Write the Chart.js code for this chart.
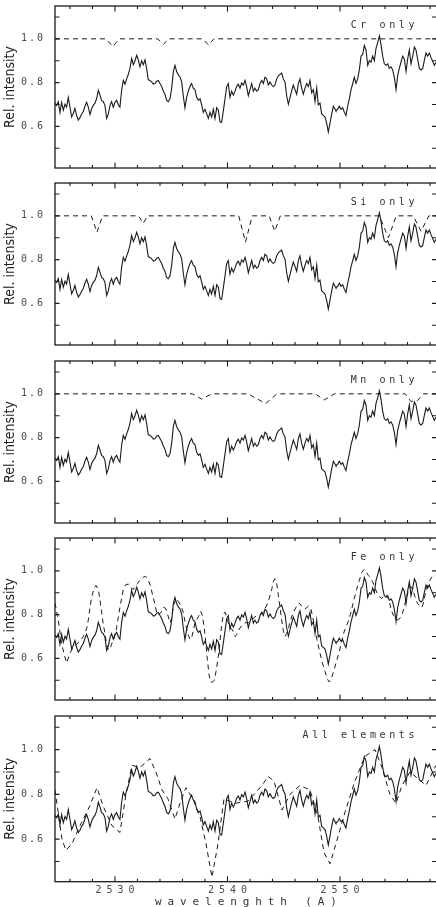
<!DOCTYPE html>
<html><head><meta charset="utf-8">
<script src="https://cdn.jsdelivr.net/npm/chart.js@4.4.1/dist/chart.umd.min.js"></script>
<style>
html,body{margin:0;padding:0;background:#fff;overflow:hidden}
#wrap{position:relative;width:436px;height:907px;overflow:hidden;background:#fff}
canvas{position:absolute;left:0}
</style></head><body><div id="wrap"></div>
<script>
// ---------------- DATA ----------------
const obsWavelength = [
2524.67,2524.81,2524.96,2525.11,2525.26,2525.41,2525.56,2525.70,2525.85,2526.00,2526.15,2526.30,2526.44,2526.59,2526.74,2526.89,2527.04,2527.19,2527.33,2527.48,2527.63,2527.78,2527.93,2528.07,2528.22,2528.37,2528.52,2528.67,2528.81,2528.96,2529.11,2529.26,2529.41,2529.56,2529.70,2529.85,2530.00,2530.15,2530.30,2530.44,2530.59,2530.74,2530.89,2531.04,2531.19,2531.33,2531.48,2531.63,2531.78,2531.93,2532.07,2532.22,2532.37,2532.52,2532.67,2532.81,2532.96,
2533.11,2533.26,2533.41,2533.56,2533.70,2533.85,2534.00,2534.15,2534.30,2534.44,2534.59,2534.74,2534.89,2535.04,2535.19,2535.33,2535.48,2535.63,2535.78,2535.93,2536.07,2536.22,2536.37,2536.52,2536.67,2536.81,2536.96,2537.11,2537.26,2537.41,2537.56,2537.70,2537.85,2538.00,2538.15,2538.30,2538.44,2538.59,2538.74,2538.89,2539.04,2539.19,2539.33,2539.48,2539.63,2539.78,2539.93,2540.07,2540.22,2540.37,2540.52,2540.67,2540.81,2540.96,2541.11,2541.26,2541.41,
2541.56,2541.70,2541.85,2542.00,2542.15,2542.30,2542.44,2542.59,2542.74,2542.89,2543.04,2543.19,2543.33,2543.48,2543.63,2543.78,2543.93,2544.07,2544.22,2544.37,2544.52,2544.67,2544.81,2544.96,2545.11,2545.26,2545.41,2545.56,2545.70,2545.85,2546.00,2546.15,2546.30,2546.44,2546.59,2546.74,2546.89,2547.04,2547.19,2547.33,2547.48,2547.63,2547.78,2547.93,2548.07,2548.22,2548.37,2548.52,2548.67,2548.81,2548.96,2549.11,2549.26,2549.41,2549.56,
2549.64,2549.79,2549.94,2550.09,2550.24,2550.39,2550.53,2550.68,2550.83,2550.98,2551.13,2551.27,2551.42,2551.57,2551.72,2551.87,2552.01,2552.16,2552.31,2552.46,2552.61,2552.75,2552.90,2553.05,2553.20,2553.35,2553.50,2553.64,2553.79,2553.94,2554.09,2554.24,2554.38,2554.53,2554.68,2554.83,2554.98,2555.12,2555.27,2555.42,2555.57,2555.72,2555.87,2556.01,2556.16,2556.31,2556.46,2556.61,2556.75,2556.90,2557.05,2557.20,2557.35,2557.49,2557.64,2557.79,2557.94,2558.09,2558.24,2558.38,2558.53];
const obsIntensity = [
0.706,0.696,0.713,0.664,0.710,0.674,0.701,0.688,0.732,0.688,0.643,0.660,0.682,0.650,0.629,0.640,0.657,0.668,0.692,0.710,0.688,0.654,0.682,0.696,0.706,0.726,0.765,0.743,0.719,0.713,0.696,0.636,0.657,0.696,0.713,0.688,0.710,0.719,0.699,0.688,0.765,0.810,0.793,0.817,0.838,0.865,0.910,0.882,0.900,0.925,0.904,0.872,0.900,0.882,0.904,0.865,0.813,
0.810,0.803,0.793,0.796,0.807,0.810,0.796,0.782,0.761,0.747,0.719,0.713,0.726,0.775,0.851,0.879,0.851,0.835,0.826,0.803,0.740,0.685,0.733,0.761,0.782,0.796,0.775,0.768,0.733,0.719,0.726,0.699,0.664,0.678,0.657,0.636,0.664,0.643,0.678,0.636,0.685,0.674,0.622,0.618,0.671,0.726,0.782,0.796,0.733,0.761,0.743,0.761,0.782,0.793,0.775,0.799,0.789,
0.810,0.782,0.740,0.768,0.796,0.761,0.775,0.761,0.768,0.796,0.810,0.796,0.824,0.817,0.789,0.803,0.789,0.782,0.789,0.817,0.831,0.838,0.844,0.817,0.803,0.740,0.701,0.733,0.761,0.789,0.768,0.747,0.796,0.817,0.775,0.747,0.775,0.796,0.782,0.810,0.754,0.768,0.713,0.775,0.699,0.706,0.657,0.650,0.643,0.615,0.574,0.615,0.657,0.692,0.678,
0.671,0.678,0.692,0.678,0.685,0.664,0.650,0.692,0.726,0.768,0.796,0.824,0.796,0.817,0.858,0.921,0.928,0.969,0.949,0.879,0.900,0.893,0.921,0.900,0.956,0.983,1.014,0.976,0.921,0.886,0.879,0.886,0.865,0.872,0.858,0.824,0.768,0.831,0.865,0.893,0.921,0.907,0.851,0.907,0.949,0.886,0.921,0.963,0.949,0.907,0.865,0.858,0.865,0.900,0.935,0.921,0.935,0.914,0.896,0.879,0.893];

const crWavelength = [2524.67,2529.2,2529.8,2530.4,2533.8,2534.3,2534.8,2537.8,2538.3,2538.8,2558.6];
const crModel      = [1.0,1.0,0.965,1.0,1.0,0.975,1.0,1.0,0.972,1.0,1.0];

const siWavelength = [2524.67,2527.9,2528.4,2528.9,2532.1,2532.5,2532.9,2541.0,2541.6,2542.2,2543.7,2544.2,2544.7,2553.5,2554.3,2555.0,2556.5,2557.2,2557.9,2558.6];
const siModel      = [1.0,1.0,0.925,1.0,1.0,0.965,1.0,1.0,0.88,1.0,1.0,0.93,1.0,1.0,0.90,1.0,1.0,0.93,1.0,1.0];

const mnWavelength = [2524.67,2536.9,2537.7,2538.6,2541.8,2543.4,2544.4,2547.8,2548.6,2549.5,2555.8,2556.3,2556.9,2557.4,2558.6];
const mnModel      = [1.0,1.0,0.976,1.0,1.0,0.956,1.0,1.0,0.972,1.0,1.0,0.965,0.97,1.0,1.0];

const feWavelength = [
2524.67,2524.96,2525.11,2525.26,2525.50,2525.70,2526.00,2526.30,2526.59,2526.89,2527.19,2527.48,2527.63,2527.78,2527.93,2528.16,2528.31,2528.52,2528.67,2528.81,2528.96,2529.11,2529.26,2529.41,2529.56,2529.70,2529.94,2530.15,2530.30,2530.44,2530.59,2530.74,2530.95,2531.19,2531.42,2531.63,2531.78,2532.01,2532.22,2532.52,2532.73,2532.96,2533.17,2533.35,2533.56,2533.70,2533.85,2534.09,2534.30,2534.44,2534.59,2534.74,2534.89,2535.04,2535.19,2535.33,2535.48,2535.63,2535.87,2536.07,2536.22,2536.37,2536.52,2536.67,2536.81,2536.96,2537.11,2537.41,2537.61,2537.76,2537.91,2538.06,2538.21,2538.36,2538.50,2538.68,2538.83,2538.98,2539.19,2539.33,2539.48,2539.63,2539.78,2539.93,2540.07,2540.22,2540.37,2540.52,2540.67,2540.81,2540.96,2541.26,2541.56,
2541.85,2542.15,2542.44,2542.74,2543.04,2543.33,2543.63,2543.93,2544.07,2544.22,2544.37,2544.52,2544.67,2544.81,2544.96,2545.11,2545.26,2545.41,2545.56,2545.85,2546.15,2546.38,2546.59,2546.89,2547.19,2547.39,2547.57,2547.78,2547.98,2548.22,2548.46,2548.67,2548.87,2549.05,2549.26,2549.47,2549.70,2549.94,2550.15,2550.36,2550.59,2550.83,2551.04,2551.24,2551.48,2551.72,2551.93,2552.13,2552.31,2552.52,2552.67,2552.90,2553.11,2553.32,2553.50,2553.70,2553.91,2554.15,2554.36,2554.53,2554.74,2554.95,2555.13,2555.33,2555.54,2555.72,2555.93,2556.07,2556.28,2556.46,2556.67,2556.87,2557.11,2557.26,2557.41,2557.55,2557.76,2558.00,2558.15,2558.39,2558.53];
const feModel = [
0.853,0.776,0.721,0.665,0.617,0.579,0.624,0.651,0.665,0.679,0.700,0.735,0.776,0.832,0.881,0.922,0.933,0.915,0.867,0.811,0.756,0.714,0.665,0.638,0.644,0.665,0.693,0.742,0.790,0.832,0.874,0.915,0.936,0.940,0.922,0.915,0.929,0.943,0.957,0.971,0.975,0.957,0.929,0.888,0.846,0.811,0.797,0.811,0.832,0.832,0.818,0.790,0.763,0.783,0.839,0.860,0.874,0.860,0.839,0.811,0.769,0.735,0.707,0.686,0.693,0.728,0.763,0.790,0.815,0.797,0.749,0.679,0.596,0.526,0.492,0.492,0.499,0.540,0.610,0.679,0.749,0.804,0.811,0.790,0.763,0.742,0.735,0.721,0.700,0.707,0.728,0.749,0.763,
0.763,0.776,0.790,0.797,0.804,0.825,0.860,0.915,0.950,0.964,0.943,0.888,0.832,0.776,0.728,0.700,0.714,0.735,0.769,0.811,0.839,0.853,0.839,0.825,0.839,0.832,0.790,0.735,0.679,0.624,0.575,0.540,0.506,0.492,0.513,0.547,0.589,0.631,0.679,0.721,0.749,0.783,0.825,0.867,0.915,0.957,0.992,1.006,0.999,0.978,0.971,0.950,0.922,0.894,0.881,0.874,0.888,0.888,0.867,0.825,0.797,0.783,0.776,0.783,0.804,0.839,0.881,0.908,0.929,0.915,0.881,0.853,0.839,0.832,0.853,0.888,0.929,0.957,0.971,0.978,0.978];

const allWavelength = [2524.67,2525.29,2525.64,2526.18,2526.89,2527.78,2528.40,2528.93,2529.73,2530.44,2530.98,2531.51,2532.22,2533.11,2533.64,2534.18,2534.71,2535.33,2535.78,2536.31,2536.93,2537.56,2538.09,2538.62,2539.16,2539.69,2540.67,2541.82,2543.07,2543.60,2544.13,2544.84,2545.56,2546.44,2547.33,2548.04,2548.58,2549.11,2549.64,2550.44,2551.33,2552.22,2553.11,2553.73,2554.44,2554.98,2555.51,2556.22,2556.93,2557.64,2558.53];
const allModel      = [0.82,0.60,0.55,0.58,0.66,0.75,0.83,0.75,0.66,0.63,0.80,0.93,0.92,0.96,0.90,0.82,0.78,0.69,0.76,0.83,0.78,0.70,0.58,0.43,0.58,0.78,0.76,0.77,0.84,0.88,0.86,0.73,0.80,0.84,0.82,0.70,0.54,0.49,0.58,0.72,0.86,0.97,1.00,0.92,0.80,0.76,0.84,0.90,0.87,0.84,0.93];

const panelLabels = ['Cr only', 'Si only', 'Mn only', 'Fe only', 'All elements'];
const modelWavelengths = [crWavelength, siWavelength, mnWavelength, feWavelength, allWavelength];
const modelIntensities = [crModel, siModel, mnModel, feModel, allModel];

const yTickValues = [0.5, 0.6, 0.7, 0.8, 0.9, 1.0, 1.1];
const yTickLabels = ['', '0.6', '', '0.8', '', '1.0', ''];
const xTickValues = [2526, 2528, 2530, 2532, 2534, 2536, 2538, 2540, 2542, 2544, 2546, 2548, 2550, 2552, 2554, 2556, 2558];
const xMajorTicks = [2530, 2540, 2550];
const xTitle = 'wavelenghth (A)';
const yTitle = 'Rel. intensity';
const xRange = [2524.67, 2558.62];
const yRange = [0.41, 1.15];

// ---------------- LAYOUT ----------------
const panels = [
  {top: -1.5, bottom: 175.7},
  {top: 175.0, bottom: 353.0},
  {top: 353.3, bottom: 530.3},
  {top: 530.3, bottom: 707.7},
  {top: 708.3, bottom: 881.7}
];
const INK = '#1b1b1b';
const TEXT = '#4a4a4a';
const CANVAS_W = 438;
const MONO = '"DejaVu Sans Mono", "Liberation Mono", monospace';

function patchSpacing(labelLs, labelDx, titleLs, titleDx, titleDy) {
  return function (scale) {
    if (scale.__sp) return;
    scale.__sp = true;
    const dl = scale.drawLabels, dt = scale.drawTitle;
    scale.drawLabels = function (a) {
      const c = this.ctx; c.save(); c.letterSpacing = labelLs; c.translate(labelDx, 0); dl.call(this, a); c.restore();
    };
    scale.drawTitle = function () {
      const c = this.ctx; c.save(); c.letterSpacing = titleLs; c.translate(titleDx, titleDy); dt.call(this); c.restore();
    };
  };
}

const framePlugin = {
  id: 'panelFrame',
  afterDraw(chart, args, opts) {
    const {ctx, chartArea: a, scales: {x, y}} = chart;
    ctx.save();
    ctx.strokeStyle = INK;
    ctx.lineWidth = 1.3;
    ctx.strokeRect(a.left, a.top, a.right - a.left, a.bottom - a.top);
    ctx.lineWidth = 1.1;
    ctx.beginPath();
    for (const v of xTickValues) {
      const px = x.getPixelForValue(v);
      const L = xMajorTicks.includes(v) ? 5.5 : 3;
      ctx.moveTo(px, a.bottom); ctx.lineTo(px, a.bottom - L);
      ctx.moveTo(px, a.top); ctx.lineTo(px, a.top + L);
    }
    for (const v of yTickValues) {
      const py = y.getPixelForValue(v);
      ctx.moveTo(a.left, py); ctx.lineTo(a.left + 4.5, py);
      ctx.moveTo(a.right, py); ctx.lineTo(a.right - 5, py);
    }
    ctx.stroke();
    // panel label
    ctx.fillStyle = '#333';
    ctx.font = '10px ' + MONO;
    ctx.letterSpacing = '3.6px';
    ctx.textAlign = 'right';
    ctx.textBaseline = 'middle';
    ctx.fillText(opts.label, a.right - 19, a.top + opts.labelDy);
    ctx.restore();
  }
};

const wrap = document.getElementById('wrap');
panels.forEach((p, i) => {
  const isLast = i === panels.length - 1;
  const cTop = Math.floor(p.top) - 10;
  const cBottom = isLast ? 908 : Math.ceil(p.bottom) + 10;
  const cv = document.createElement('canvas');
  cv.width = CANVAS_W; cv.height = cBottom - cTop;
  cv.style.top = cTop + 'px';
  cv.style.width = CANVAS_W + 'px'; cv.style.height = (cBottom - cTop) + 'px';
  wrap.appendChild(cv);
  const padTop = p.top - cTop;
  const xAxisH = cBottom - p.bottom;

  const obs = obsWavelength.map((w, k) => ({x: w, y: obsIntensity[k]}));
  const mod = modelWavelengths[i].map((w, k) => ({x: w, y: modelIntensities[i][k]}));

  new Chart(cv, {
    type: 'line',
    data: {datasets: [
      {data: obs, borderColor: INK, borderWidth: 1.1, pointRadius: 0, tension: 0, fill: false},
      {data: mod, borderColor: INK, borderWidth: 1.0, borderDash: [5, 4], pointRadius: 0, tension: 0, fill: false}
    ]},
    options: {
      responsive: false, animation: false, devicePixelRatio: 1,
      events: [],
      layout: {padding: {top: padTop, left: 0, right: 1, bottom: 0}},
      plugins: {legend: {display: false}, tooltip: {enabled: false},
        panelFrame: {label: panelLabels[i], labelDy: 19}},
      scales: {
        x: {
          type: 'linear', min: xRange[0], max: xRange[1],
          grid: {display: false, drawTicks: false}, border: {display: false},
          afterBuildTicks: s => { s.ticks = xTickValues.map(v => ({value: v})); },
          afterFit: s => { s.height = xAxisH; },
          afterUpdate: patchSpacing('5px', 2.5, '5.9px', 2.95, 0),
          ticks: {display: isLast, autoSkip: false, maxRotation: 0, minRotation: 0, padding: 3,
            color: TEXT, font: {family: MONO, size: 10},
            callback: v => xMajorTicks.includes(v) ? String(v) : ''},
          title: {display: isLast, text: xTitle, color: '#333', padding: {top: 0, bottom: 0},
            font: {family: MONO, size: 11, lineHeight: 1}}
        },
        y: {
          type: 'linear', min: yRange[0], max: yRange[1],
          grid: {display: false, drawTicks: false}, border: {display: false},
          afterBuildTicks: s => { s.ticks = yTickValues.map(v => ({value: v})); },
          afterFit: s => { s.width = 55; },
          afterUpdate: patchSpacing('2px', 2, '0px', 0, 0),
          ticks: {autoSkip: false, padding: 12, color: TEXT,
            font: {family: MONO, size: 10},
            callback: (v, idx) => yTickLabels[idx]},
          title: {display: true, text: yTitle, color: '#222', padding: {top: 2, bottom: 0},
            font: {family: '"Liberation Sans Narrow", "DejaVu Sans Condensed", "Liberation Sans", sans-serif', size: 14, lineHeight: 1.15}}
        }
      }
    },
    plugins: [framePlugin]
  });
});
</script>
</body></html>
